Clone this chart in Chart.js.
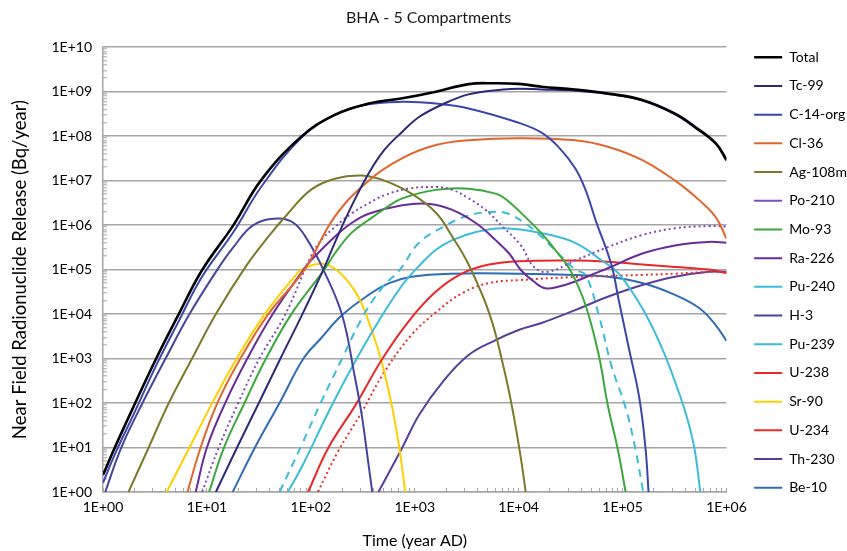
<!DOCTYPE html>
<html>
<head>
<meta charset="utf-8">
<script src="https://cdn.jsdelivr.net/npm/chart.js@4.4.1/dist/chart.umd.min.js"></script>
<style>
  html, body { margin: 0; padding: 0; background: #fff; }
  #wrap { width: 847px; height: 551px; }
</style>
</head>
<body>
<div id="wrap"><canvas id="myChart" width="847" height="551"></canvas></div>
<script>
// release rates, [time (year AD), Bq/year]
var total = [[1,2.4],[1.3,10],[2,90],[3.2,930],[5.3,9.5e3],[9,9.8e4],[18,1e6],[33,1e7],[80,9.5e7],[170,3e8],[360,5.4e8],[760,7.1e8],[1600,1e9],[3300,1.48e9],[5600,1.55e9],[1e4,1.5e9],[1.66e4,1.29e9],[3.5e4,1.12e9],[7.2e4,9.1e8],[1.55e5,6.5e8],[3.2e5,3.2e8],[5e5,1.6e8],[7.9e5,6.9e7],[1e6,3e7]];
var tc99 = [[12.2,1],[19.5,10],[31.6,100],[51,1e3],[83,1e4],[132,1e5],[170,4e5],[245,2.6e6],[360,1.45e7],[510,4.9e7],[760,1.26e8],[1100,2.7e8],[1860,5.2e8],[3300,8.7e8],[7100,1.12e9],[1e4,1.17e9],[1.66e4,1.12e9],[3.5e4,1.05e9],[7.2e4,8.9e8],[1.55e5,6.3e8],[3.2e5,3.1e8],[5e5,1.55e8],[7.9e5,6.7e7],[1e6,2.8e7]];
var c14org = [[1,1.6],[1.3,7],[2,60],[3.2,650],[5.3,6.6e3],[9,7e4],[18,7e5],[33,7e6],[80,9e7],[170,3e8],[360,5.2e8],[760,5.9e8],[1600,5.4e8],[3300,4.2e8],[1e4,2e8],[1.66e4,1.2e8],[2.4e4,5.8e7],[3.5e4,1.9e7],[4.4e4,6.2e6],[5.5e4,1.3e6],[7.8e4,1.3e5],[9.1e4,2.3e4],[1.15e5,1.7e3],[1.45e5,130],[1.66e5,10],[1.78e5,1]];
var cl36 = [[6.5,1],[8.7,10],[12.6,100],[21,1e3],[39,1e4],[87,1e5],[170,1.55e6],[360,1e7],[760,3.2e7],[1600,6.3e7],[3300,8.1e7],[1e4,9e7],[3.5e4,8.1e7],[7.2e4,5.8e7],[1.55e5,2.9e7],[3.2e5,1e7],[5.5e5,3.6e6],[7.9e5,1.5e6],[1e6,5e5]];
var ag108m = [[1.76,1],[2.75,10],[4.3,100],[7.2,1e3],[12.2,1e4],[23.8,1.2e5],[39,5.5e5],[60,1.8e6],[100,6.2e6],[170,1.1e7],[310,1.3e7],[510,1e7],[930,5.1e6],[1600,1.9e6],[2300,5.5e5],[3300,1.3e5],[5250,1e4],[7100,700],[8700,75],[1.05e4,5.8],[1.17e4,1]];
var po210 = [[9,1],[13,10],[20,100],[32,1e3],[57,1e4],[100,1.95e5],[126,4.6e5],[170,9e5],[245,1.8e6],[360,3.1e6],[510,4.7e6],[870,6.6e6],[1600,7.2e6],[2300,6.2e6],[3300,4e6],[4800,2.2e6],[7100,9e5],[1.05e4,3.5e5],[1.4e4,1.15e5],[1.9e4,8.9e4],[3.5e4,1.6e5],[7.2e4,3.2e5],[1.55e5,6e5],[3.2e5,8.5e5],[6.8e5,9.5e5],[1e6,9.3e5]];
var mo93 = [[10.5,1],[14.6,10],[23,100],[37,1e3],[65,1e4],[135,1e5],[170,2.3e5],[245,6.6e5],[360,1.3e6],[510,2.3e6],[760,4e6],[1600,6.2e6],[3300,6.6e6],[6000,5.1e6],[7900,3.5e6],[1.15e4,1.55e6],[1.66e4,6.5e5],[2.4e4,2.3e5],[3.2e4,8.9e4],[4.4e4,1.6e4],[5.9e4,1.2e3],[7.2e4,91],[9.1e4,8],[1.07e5,1]];
var ra226 = [[7.8,1],[10,10],[15,100],[24.5,1e3],[43,1e4],[85,1e5],[100,1.6e5],[170,5.5e5],[245,1.1e6],[360,1.8e6],[760,2.8e6],[1400,3e6],[2300,2.2e6],[3900,1.1e6],[6000,4.6e5],[8100,2.3e5],[1.05e4,9.8e4],[1.4e4,5.4e4],[1.8e4,3.8e4],[2.4e4,4.1e4],[3.5e4,5.4e4],[5e4,7.6e4],[7.2e4,1.07e5],[1.55e5,2.3e5],[3.2e5,3.5e5],[6.8e5,4.2e5],[1e6,4e5]];
var pu240 = [[50,1],[81,11],[126,107],[200,1e3],[310,8e3],[480,3.8e4],[720,1e5],[1100,4e5],[1860,9e5],[3300,1.65e6],[6000,2e6],[8000,1.8e6],[1.15e4,1.1e6],[1.66e4,5.5e5],[2.4e4,2.3e5],[3.5e4,1e5],[4.4e4,7.6e4],[5.9e4,9.5e3],[7.8e4,700],[1.07e5,78],[1.32e5,10],[1.58e5,1]];
var h3 = [[1.05,1],[1.5,10],[2.4,100],[4,1e3],[6.8,1e4],[12.6,1e5],[18,3.2e5],[28,1e6],[48,1.4e6],[69,1.1e6],[93,4.6e5],[132,1e5],[200,9.5e3],[263,430],[309,54],[360,4],[390,1]];
var pu239 = [[60,1],[81,3.5],[148,63],[245,600],[447,6.8e3],[760,4.5e4],[1120,1.26e5],[1600,2.8e5],[2300,4.6e5],[3900,7e5],[7100,8.5e5],[1.66e4,6.6e5],[3.5e4,4e5],[6.3e4,1.6e5],[9.1e4,8.3e4],[1.55e5,1.35e4],[2.4e5,1.7e3],[3.2e5,300],[4.1e5,54],[4.9e5,10],[5.6e5,1]];
var u238 = [[94,1],[148,10],[270,91],[480,930],[870,6.8e3],[1600,3.2e4],[2900,8.3e4],[5200,1.3e5],[1e4,1.55e5],[3.5e4,1.6e5],[7.2e4,1.5e5],[1.55e5,1.3e5],[3.2e5,1.15e5],[6.8e5,1e5],[1e6,8.3e4]];
var sr90 = [[4.1,1],[6.8,10],[11,91],[19,930],[35.5,9.5e3],[72,7.6e4],[81,1e5],[130,1.35e5],[200,7.6e4],[290,2.3e4],[390,4e3],[480,850],[600,91],[710,10],[810,1]];
var u234 = [[117,1],[182,8],[310,63],[510,500],[930,3.4e3],[1600,1.1e4],[2900,3e4],[5200,5e4],[1e4,5.8e4],[3.5e4,6.8e4],[1.55e5,7.6e4],[3.2e5,8.1e4],[6.8e5,8.9e4],[1e6,8.9e4]];
var th230 = [[447,1],[760,10],[1100,54],[1860,300],[3300,1.2e3],[6000,2.6e3],[1e4,4.4e3],[1.66e4,6.3e3],[3.5e4,1.23e4],[7.2e4,2.45e4],[1.55e5,4.5e4],[3.2e5,6.9e4],[6.8e5,8.9e4],[1e6,8.9e4]];
var be10 = [[17.7,1],[29,10],[50,100],[85,1e3],[126,2.9e3],[200,9.5e3],[360,2.7e4],[560,4.9e4],[930,6.9e4],[2300,8.1e4],[1e4,8.1e4],[3.5e4,7.6e4],[7.2e4,6.9e4],[1.55e5,5e4],[3.2e5,2.7e4],[5.5e5,1.35e4],[7.9e5,5.6e3],[1e6,2.5e3]];

var names = ["Total", "Tc-99", "C-14-org", "Cl-36", "Ag-108m", "Po-210", "Mo-93", "Ra-226", "Pu-240", "H-3", "Pu-239", "U-238", "Sr-90", "U-234", "Th-230", "Be-10"];
var series = [total, tc99, c14org, cl36, ag108m, po210, mo93, ra226, pu240, h3, pu239, u238, sr90, u234, th230, be10];
var lineColors = ["#000000", "#2c2a78", "#3a46a8", "#e0672c", "#7a7a2c", "#7b4db8", "#3aa83a", "#6a2c9a", "#3cbcd8", "#45459e", "#3cbcd8", "#e8282a", "#ffd000", "#e8302f", "#56409c", "#2e6cb6"];
var lineDash = [[], [], [], [], [], [2, 3], [], [], [8, 6], [], [], [], [], [2, 3], [], []];

var FONT = "Lato, 'Open Sans', sans-serif";
var GRID = "#a6a6a6";

function isPow10(v) {
    var e = Math.log10(v);
    return Math.abs(e - Math.round(e)) < 1e-9;
}
function expLabel(v) {
    if (!isPow10(v)) return "";
    var e = Math.round(Math.log10(v));
    return "1E+" + (e < 10 ? "0" : "") + e;
}
// keep 1..9 x 10^n minor ticks only
function dropHalfSteps(axis) {
    axis.ticks = axis.ticks.filter(function (t) {
        var m = t.value / Math.pow(10, Math.floor(Math.log10(t.value) + 1e-9));
        return Math.abs(m - 1.5) > 1e-6;
    });
}

var datasets = series.map(function (d, i) {
    return {
        label: names[i],
        data: d,
        borderColor: lineColors[i],
        backgroundColor: lineColors[i],
        borderWidth: i === 0 ? 2.6 : 2,
        borderDash: lineDash[i],
        pointRadius: 0,
        pointHoverRadius: 0,
        pointStyle: "line",
        tension: 0.4,
        fill: false
    };
});

new Chart("myChart", {
    type: "line",
    data: { datasets: datasets },
    options: {
        responsive: false,
        animation: false,
        layout: { padding: { left: 0, right: -10, top: -6, bottom: 0 } },
        plugins: {
            title: {
                display: true,
                text: "BHA - 5 Compartments",
                color: "#1a1a1a",
                font: { family: FONT, size: 16, weight: "normal" },
                padding: { top: 14, bottom: 20 }
            },
            legend: {
                position: "right",
                labels: {
                    usePointStyle: true,
                    pointStyleWidth: 28,
                    padding: 14.7,
                    color: "#000",
                    font: { family: FONT, size: 14 }
                }
            },
            tooltip: { enabled: false }
        },
        scales: {
            x: {
                type: "logarithmic",
                min: 1,
                max: 1e6,
                afterBuildTicks: dropHalfSteps,
                afterFit: function (s) { s.height = 59; },
                border: { color: GRID, width: 1.5 },
                grid: { color: "transparent", tickColor: GRID, tickLength: -4, tickWidth: 1 },
                ticks: {
                    autoSkip: false,
                    maxRotation: 0,
                    padding: 11,
                    color: "#000",
                    font: { family: FONT, size: 14 },
                    callback: function (v) { return expLabel(v); }
                },
                title: {
                    display: true,
                    text: "Time (year AD)",
                    color: "#000",
                    font: { family: FONT, size: 16 },
                    padding: { top: 4, bottom: 1 }
                }
            },
            y: {
                type: "logarithmic",
                min: 1,
                max: 1e10,
                afterBuildTicks: dropHalfSteps,
                afterFit: function (s) { s.width = 103; },
                border: { color: GRID, width: 1.5 },
                grid: {
                    color: function (ctx) { return ctx.tick && isPow10(ctx.tick.value) ? GRID : "transparent"; },
                    lineWidth: 1.6,
                    tickColor: GRID,
                    tickLength: -4,
                    tickWidth: 1
                },
                ticks: {
                    autoSkip: false,
                    padding: 15,
                    color: "#000",
                    font: { family: FONT, size: 14 },
                    callback: function (v) { return expLabel(v); }
                },
                title: {
                    display: true,
                    text: "Near Field Radionuclide Release (Bq/year)",
                    color: "#000",
                    font: { family: FONT, size: 18.5 },
                    padding: { top: 9, bottom: 4 }
                }
            },
            // spacer between plot and legend
            gap: {
                type: "linear",
                position: "right",
                display: true,
                afterFit: function (s) { s.width = 13; },
                border: { display: false },
                grid: { display: false, drawTicks: false },
                ticks: { display: false }
            }
        }
    }
});
</script>
</body>
</html>
